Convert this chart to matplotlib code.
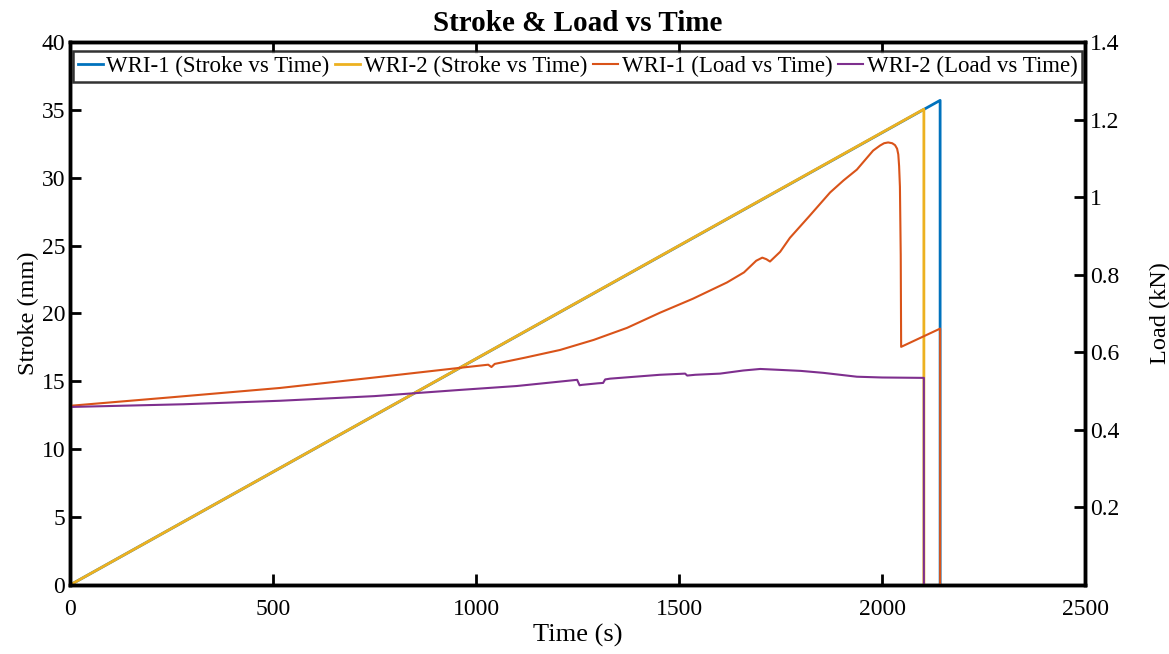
import numpy as np
import matplotlib.pyplot as plt

plt.rcParams['font.family'] = ['Liberation Serif', 'DejaVu Serif']

# stroke: crosshead moves at a constant rate, read from the end points
stroke1_t = [0, 2143, 2143]
stroke1 = [0, 35.7, 0]
stroke2_t = [0, 2103, 2103]
stroke2 = [0, 35.05, 0]

# load WRI-1 (kN)
load1_t = [0, 250, 517, 750, 961, 1030, 1038, 1046, 1120, 1207, 1290, 1372, 1453, 1534, 1618,
           1660, 1690, 1705, 1715, 1724, 1749, 1773, 1820, 1872, 1905, 1938, 1960, 1978, 1995,
           2005, 2015, 2025, 2032, 2037, 2040, 2042, 2044, 2046, 2047, 2100, 2143, 2143]
load1 = [0.462, 0.484, 0.508, 0.535, 0.560, 0.568, 0.562, 0.570, 0.586, 0.606, 0.632, 0.663,
         0.702, 0.738, 0.780, 0.806, 0.836, 0.844, 0.840, 0.834, 0.859, 0.895, 0.950, 1.012,
         1.043, 1.071, 1.098, 1.120, 1.133, 1.139, 1.141, 1.139, 1.134, 1.125, 1.11, 1.08,
         1.027, 0.85, 0.614, 0.640, 0.661, 0.0]

# load WRI-2 (kN)
load2_t = [0, 280, 517, 750, 961, 1100, 1249, 1255, 1261, 1300, 1313, 1318, 1330, 1453, 1515,
           1520, 1540, 1601, 1658, 1700, 1741, 1800, 1855, 1938, 2000, 2103, 2103]
load2 = [0.459, 0.466, 0.475, 0.487, 0.503, 0.513, 0.529, 0.515, 0.516, 0.520, 0.521, 0.530,
         0.532, 0.542, 0.545, 0.540, 0.542, 0.545, 0.553, 0.557, 0.555, 0.552, 0.547, 0.537,
         0.535, 0.534, 0.0]

fig = plt.figure(figsize=(11.69, 6.54), dpi=100)
ax = fig.add_axes([0.0599, 0.1055, 0.8683, 0.8303])
ax2 = ax.twinx()

l1, = ax.plot(stroke1_t, stroke1, color='#0072BD', lw=2)
l2, = ax.plot(stroke2_t, stroke2, color='#EDB120', lw=2)
l3, = ax2.plot(load1_t, load1, color='#D95319', lw=1.5)
l4, = ax2.plot(load2_t, load2, color='#7E2F8E', lw=1.5)

ax.set_xlim(0, 2500)
ax.set_ylim(0, 40)
ax2.set_ylim(0, 1.4)
ax.set_xticks([0, 500, 1000, 1500, 2000, 2500])
ax.set_yticks(np.arange(0, 41, 5))
ax2.set_yticks([0.2, 0.4, 0.6, 0.8, 1, 1.2, 1.4])
ax2.set_yticklabels(['0.2', '0.4', '0.6', '0.8', '1', '1.2', '1.4'])

ax.tick_params(axis='x', direction='in', length=8, width=2, top=True, labelsize=17, pad=10)
ax.tick_params(axis='y', direction='in', length=8, width=2, right=False, labelsize=17)
ax2.tick_params(axis='y', direction='in', length=8, width=2, labelsize=17)
for sp in list(ax.spines.values()) + list(ax2.spines.values()):
    sp.set_linewidth(2.5)

ax.set_xlabel('Time (s)', fontsize=19, labelpad=3)
ax.set_ylabel('Stroke (mm)', fontsize=17.5, labelpad=2)
ax2.set_ylabel('Load (kN)', fontsize=17.5, labelpad=22)
ax.set_title('Stroke & Load vs Time', fontsize=21, fontweight='bold', pad=8)

leg = ax2.legend([l1, l2, l3, l4],
                 ['WRI-1 (Stroke vs Time)', 'WRI-2 (Stroke vs Time)',
                  'WRI-1 (Load vs Time)', 'WRI-2 (Load vs Time)'],
                 loc='upper left', bbox_to_anchor=(0.003, 0.983, 0.994, 0.0), mode='expand',
                 ncol=4, fontsize=16.5, frameon=True, fancybox=False, borderpad=0.2,
                 handlelength=1.1, handletextpad=0.15, columnspacing=0.3, borderaxespad=0)
leg.get_frame().set_edgecolor('black')
leg.get_frame().set_linewidth(1.8)

fig.savefig('out.png', dpi=100)
